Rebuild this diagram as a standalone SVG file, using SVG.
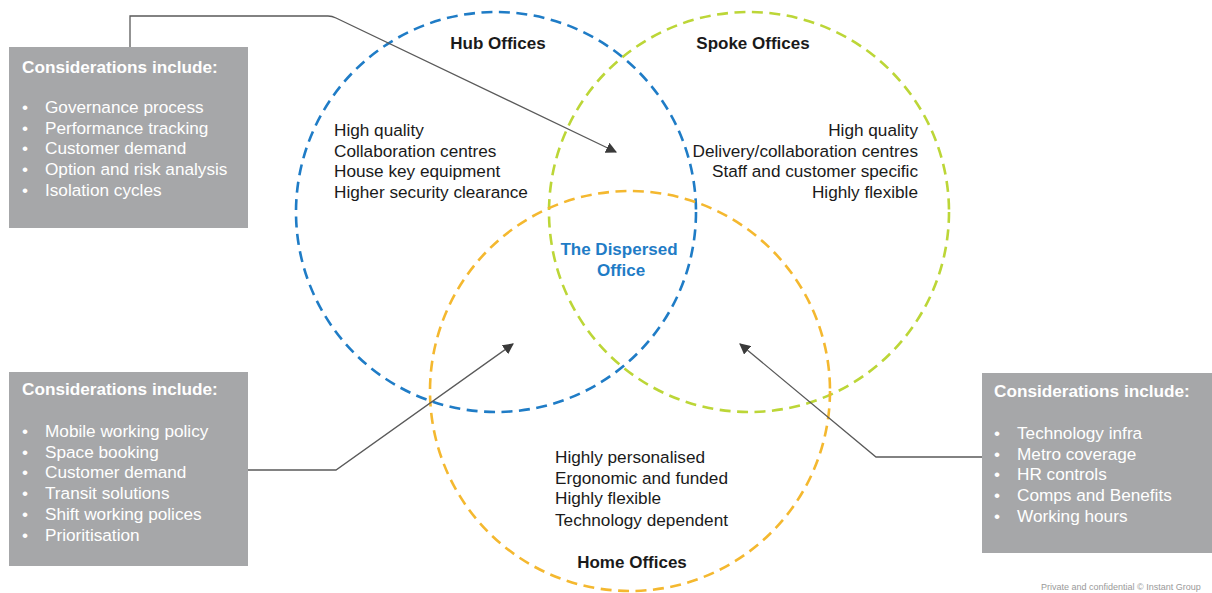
<svg xmlns="http://www.w3.org/2000/svg" width="1212" height="593" viewBox="0 0 1212 593">
  <style>
    .box { fill: #a6a7a9; }
    .boxtitle { font-family: "Liberation Sans", Arial, sans-serif; font-size: 17.2px; font-weight: bold; fill: #ffffff; }
    .boxitem { font-family: "Liberation Sans", Arial, sans-serif; font-size: 17.2px; fill: #ffffff; }
    .body { font-family: "Liberation Sans", Arial, sans-serif; font-size: 17.2px; fill: #1a1a1a; }
    .heading { font-family: "Liberation Sans", Arial, sans-serif; font-size: 17px; font-weight: bold; fill: #1a1a1a; text-anchor: middle; }
    .core { font-family: "Liberation Sans", Arial, sans-serif; font-size: 17px; font-weight: bold; fill: #1f7cc6; text-anchor: middle; }
    .ring { fill: none; stroke-width: 2.6; stroke-dasharray: 11 6.5; }
    .conn { fill: none; stroke: #5a5a5a; stroke-width: 1.3; }
    .footer { font-family: "Liberation Sans", Arial, sans-serif; font-size: 9px; fill: #9a9a9a; }
  </style>
  <defs>
    <marker id="arrow" viewBox="0 0 10 10" refX="9" refY="5" markerWidth="11" markerHeight="11" markerUnits="userSpaceOnUse" orient="auto">
      <path d="M0,0 L10,5 L0,10 Z" fill="#3a3a3a"/>
    </marker>
  </defs>

  <rect width="1212" height="593" fill="#ffffff"/>

  <!-- Venn rings -->
  <g id="hub-offices">
    <circle class="ring" cx="496" cy="212" r="200" stroke="#1f7cc6"/>
    <text class="heading" x="498" y="49">Hub Offices</text>
    <text class="body" x="334" y="136">High quality</text>
    <text class="body" x="334" y="157">Collaboration centres</text>
    <text class="body" x="334" y="177">House key equipment</text>
    <text class="body" x="334" y="198">Higher security clearance</text>
  </g>

  <g id="spoke-offices">
    <circle class="ring" cx="749" cy="212" r="200" stroke="#bcd637"/>
    <text class="heading" x="753" y="49">Spoke Offices</text>
    <g text-anchor="end">
      <text class="body" x="918" y="136">High quality</text>
      <text class="body" x="918" y="157">Delivery/collaboration centres</text>
      <text class="body" x="918" y="177">Staff and customer specific</text>
      <text class="body" x="918" y="198">Highly flexible</text>
    </g>
  </g>

  <g id="home-offices">
    <circle class="ring" cx="630" cy="391" r="200" stroke="#f4b82f"/>
    <text class="heading" x="632" y="568">Home Offices</text>
    <text class="body" x="555" y="463">Highly personalised</text>
    <text class="body" x="555" y="484">Ergonomic and funded</text>
    <text class="body" x="555" y="504">Highly flexible</text>
    <text class="body" x="555" y="526">Technology dependent</text>
  </g>

  <g id="dispersed-office">
    <text class="core" x="619" y="255">The Dispersed</text>
    <text class="core" x="621" y="276">Office</text>
  </g>

  <!-- Consideration boxes -->
  <g id="hub-considerations">
    <rect class="box" x="9" y="47" width="239" height="181"/>
    <text class="boxtitle" x="22" y="73">Considerations include:</text>
    <text class="boxitem" x="22" y="113">•</text><text class="boxitem" x="45" y="113">Governance process</text>
    <text class="boxitem" x="22" y="134">•</text><text class="boxitem" x="45" y="134">Performance tracking</text>
    <text class="boxitem" x="22" y="154">•</text><text class="boxitem" x="45" y="154">Customer demand</text>
    <text class="boxitem" x="22" y="175">•</text><text class="boxitem" x="45" y="175">Option and risk analysis</text>
    <text class="boxitem" x="22" y="196">•</text><text class="boxitem" x="45" y="196">Isolation cycles</text>
  </g>

  <g id="home-considerations">
    <rect class="box" x="9" y="372" width="239" height="194"/>
    <text class="boxtitle" x="22" y="395">Considerations include:</text>
    <text class="boxitem" x="22" y="437">•</text><text class="boxitem" x="45" y="437">Mobile working policy</text>
    <text class="boxitem" x="22" y="458">•</text><text class="boxitem" x="45" y="458">Space booking</text>
    <text class="boxitem" x="22" y="478">•</text><text class="boxitem" x="45" y="478">Customer demand</text>
    <text class="boxitem" x="22" y="499">•</text><text class="boxitem" x="45" y="499">Transit solutions</text>
    <text class="boxitem" x="22" y="520">•</text><text class="boxitem" x="45" y="520">Shift working polices</text>
    <text class="boxitem" x="22" y="541">•</text><text class="boxitem" x="45" y="541">Prioritisation</text>
  </g>

  <g id="spoke-considerations">
    <rect class="box" x="982" y="373" width="232" height="180"/>
    <text class="boxtitle" x="994" y="397">Considerations include:</text>
    <text class="boxitem" x="994" y="439">•</text><text class="boxitem" x="1017" y="439">Technology infra</text>
    <text class="boxitem" x="994" y="460">•</text><text class="boxitem" x="1017" y="460">Metro coverage</text>
    <text class="boxitem" x="994" y="480">•</text><text class="boxitem" x="1017" y="480">HR controls</text>
    <text class="boxitem" x="994" y="501">•</text><text class="boxitem" x="1017" y="501">Comps and Benefits</text>
    <text class="boxitem" x="994" y="522">•</text><text class="boxitem" x="1017" y="522">Working hours</text>
  </g>

  <!-- Connectors -->
  <g id="connectors">
    <path class="conn" d="M130,47 L130,16 L328,16 Q332,16 336,18 L616,152" marker-end="url(#arrow)"/>
    <path class="conn" d="M248,470 L336,470 L513,344" marker-end="url(#arrow)"/>
    <path class="conn" d="M982,457 L876,457 L740,344" marker-end="url(#arrow)"/>
  </g>

  <text class="footer" x="1041" y="590">Private and confidential © Instant Group</text>
</svg>
